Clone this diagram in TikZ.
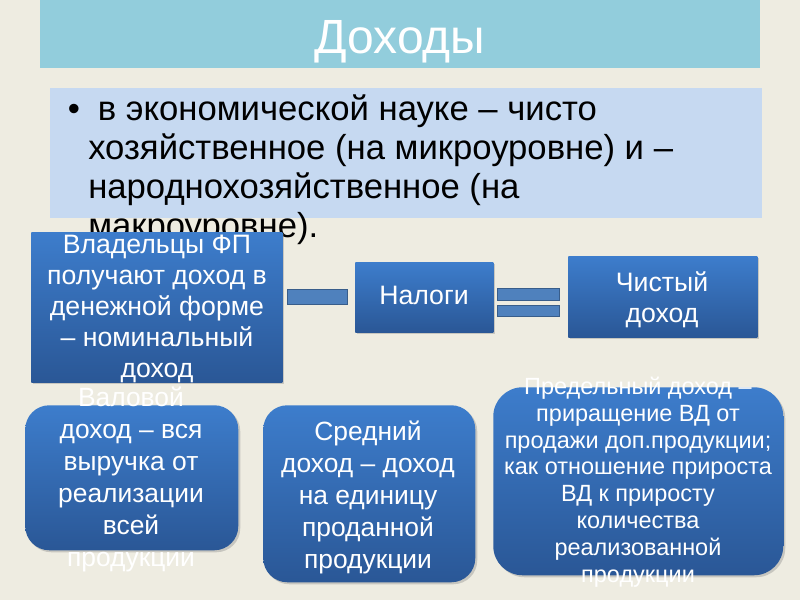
\documentclass[tikz,border=0pt]{standalone}
\usepackage{fontspec}
\setmainfont{Liberation Sans}
\usetikzlibrary{shadows}
\definecolor{bg}{HTML}{EEECE1}
\definecolor{titlebar}{HTML}{92CDDC}
\definecolor{bulletbg}{HTML}{C6D9F1}
\definecolor{boxtop}{HTML}{3D7DCC}
\definecolor{boxbot}{HTML}{2A5796}
\definecolor{linkfill}{HTML}{4F81BD}
\definecolor{linkdraw}{HTML}{385D8A}
\tikzset{
  bluebox/.style={draw=none, top color=boxtop, bottom color=boxbot, inner sep=0pt, anchor=north west,
    drop shadow={opacity=0.35, shadow xshift=1.5pt, shadow yshift=-1.5pt}},
  roundbox/.style={bluebox, rounded corners=18pt},
  linkbar/.style={fill=linkfill, draw=linkdraw, line width=0.6pt, inner sep=0pt, anchor=north west},
  boxtext/.style={text=white, align=center, inner sep=0pt, anchor=base},
  bigtext/.style={boxtext, font=\fontsize{20}{23.25}\selectfont},
  midtext/.style={boxtext, font=\fontsize{19.8}{24}\selectfont},
  smalltext/.style={boxtext, font=\fontsize{17.6}{20.1}\selectfont},
}
\begin{document}
\begin{tikzpicture}[x=0.75pt, y=-0.75pt]
\fill[bg] (0,0) rectangle (800,600);
\useasboundingbox (0,0) rectangle (800,600);
% title
\fill[titlebar] (40,0) rectangle (760,68);
\node[anchor=base, inner sep=0pt, text=white, font=\fontsize{36}{40}\selectfont] (title) at (400,53) {Доходы};
% bullet box
\fill[bulletbg] (50,88) rectangle (762,218);
\node[anchor=base, inner sep=0pt, font=\fontsize{26}{29.25}\selectfont] (bullet) at (74,120) {•};
\node[anchor=base west, align=left, inner sep=0pt, font=\fontsize{26}{29.25}\selectfont] (btext) at (88,237)
  {\ в экономической науке – чисто\\хозяйственное (на микроуровне) и –\\народнохозяйственное (на\\макроуровне).};
% top row
\node[bluebox, minimum width=188.25pt, minimum height=112.5pt] (own) at (31,232) {};
\node[bigtext] (owntext) at (157,377) {Владельцы ФП\\получают доход в\\денежной форме\\– номинальный\\доход};
\node[bluebox, minimum width=103.5pt, minimum height=52.5pt] (tax) at (355,262) {};
\node[bigtext] (taxtext) at (424,304) {Налоги};
\node[bluebox, minimum width=141.75pt, minimum height=60.75pt] (net) at (568,256) {};
\node[bigtext] (nettext) at (662,322) {Чистый\\доход};
% minus and equals signs between boxes
\node[linkbar, minimum width=45pt, minimum height=11.25pt] (minus) at (287,289) {};
\node[linkbar, minimum width=46.5pt, minimum height=9pt] (eqtop) at (497,288) {};
\node[linkbar, minimum width=46.5pt, minimum height=8.25pt] (eqbot) at (497,305) {};
% bottom row
\node[roundbox, minimum width=159.75pt, minimum height=108.75pt] (gross) at (25,405) {};
\node[midtext] (grosstext) at (131,566) {Валовой\\доход – вся\\выручка от\\реализации\\всей\\продукции};
\node[roundbox, minimum width=159pt, minimum height=132.75pt] (avg) at (263,405) {};
\node[midtext] (avgtext) at (368,568) {Средний\\доход – доход\\на единицу\\проданной\\продукции};
\node[roundbox, rounded corners=22pt, minimum width=217.5pt, minimum height=141pt] (marg) at (493,387) {};
\node[smalltext] (margtext) at (638,582) {Предельный доход –\\приращение ВД от\\продажи доп.продукции;\\как отношение прироста\\ВД к приросту\\количества\\реализованной\\продукции};
\end{tikzpicture}
\end{document}
